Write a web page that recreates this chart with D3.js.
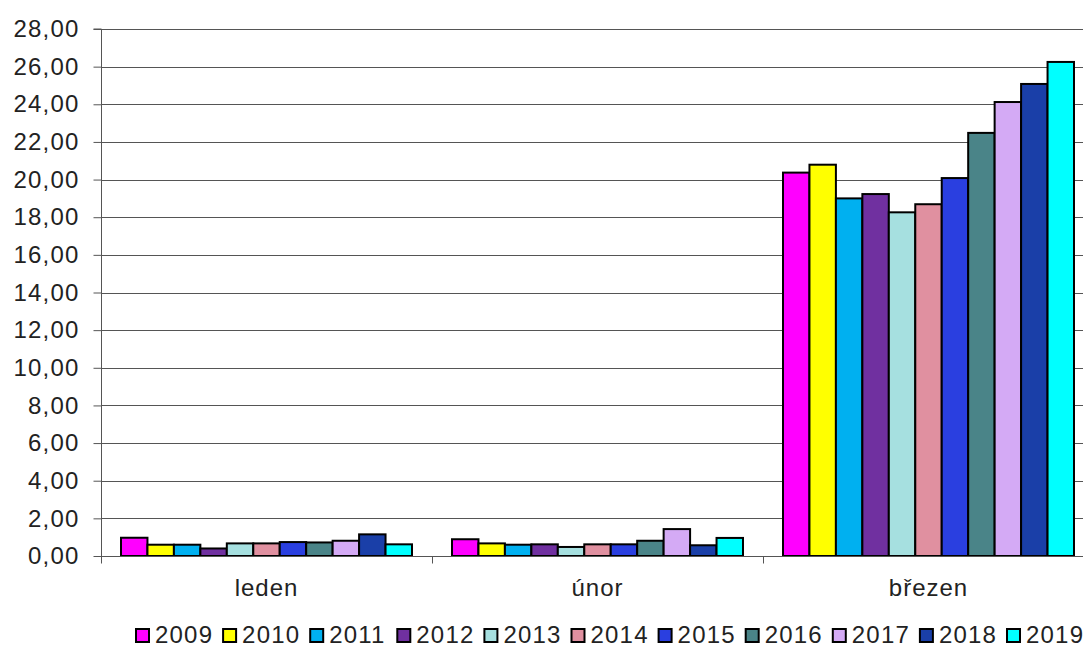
<!DOCTYPE html>
<html>
<head>
<meta charset="utf-8"/>
<script src="https://d3js.org/d3.v7.min.js"></script>
<style>
  body { margin: 0; padding: 0; background: #fff; }
  svg { display: block; font-family: 'Liberation Sans', Arial, sans-serif; }
</style>
</head>
<body>
<div id="chart"></div>
<script>
// data
const months = ["leden", "únor", "březen"];
const years = ["2009", "2010", "2011", "2012", "2013", "2014", "2015", "2016", "2017", "2018", "2019"];
const colors = ["#FF00FF", "#FFFF00", "#00B0F0", "#7030A0", "#A6E0E0", "#E090A0", "#2A3FE0", "#4A8488", "#D4AAF5", "#1A3FA8", "#00FFFF"];
const leden = [0.97, 0.60, 0.60, 0.40, 0.67, 0.67, 0.74, 0.72, 0.81, 1.15, 0.62];
const unor = [0.89, 0.67, 0.60, 0.62, 0.48, 0.62, 0.62, 0.81, 1.43, 0.57, 0.96];
const brezen = [20.37, 20.79, 19.00, 19.23, 18.26, 18.69, 20.08, 22.48, 24.12, 25.08, 26.25];
const yTicks = d3.range(0, 29, 2);

const values = [leden, unor, brezen];

const W = 1083, H = 646;
const plotL = 101, plotT = 29, plotB = 556, plotR = 1094;

const svg = d3.select("#chart").append("svg")
  .attr("width", W).attr("height", H);

const x = d3.scaleBand().domain(months).range([plotL, plotR]).paddingInner(0).paddingOuter(0);
const inner = d3.scaleBand().domain(years).range([20, x.bandwidth() - 20]).padding(0);
const y = d3.scaleLinear().domain([0, 28]).range([plotB, plotT]);

// gridlines
svg.append("g").selectAll("line")
  .data(yTicks.filter(d => d > 0))
  .join("line")
  .attr("x1", plotL).attr("x2", W)
  .attr("y1", d => Math.round(y(d)) + 0.5).attr("y2", d => Math.round(y(d)) + 0.5)
  .attr("stroke", "#555").attr("stroke-width", 1);

// y axis
const yAxis = svg.append("g")
  .attr("transform", `translate(${plotL + 0.5},0)`)
  .call(d3.axisLeft(y).tickValues(yTicks).tickSize(8).tickPadding(14)
    .tickFormat(d => d3.format(".2f")(d).replace(".", ",")));
yAxis.select(".domain").attr("stroke", "#555").attr("d", `M-8,${y(28)}H0V${y(0)}`);
yAxis.selectAll(".tick line").attr("stroke", "#555");
yAxis.selectAll(".tick text")
  .attr("fill", "#222").style("font-size", "24px").style("letter-spacing", "1.2px")
  .style("font-family", "'Liberation Sans', Arial, sans-serif");

// bars
const groups = svg.append("g").selectAll("g")
  .data(months)
  .join("g")
  .attr("transform", d => `translate(${x(d)},0)`);

groups.selectAll("rect")
  .data((m, i) => values[i].map((v, j) => ({ year: years[j], v: v, c: colors[j] })))
  .join("rect")
  .attr("x", d => inner(d.year))
  .attr("width", inner.bandwidth())
  .attr("y", d => y(d.v))
  .attr("height", d => y(0) - y(d.v))
  .attr("fill", d => d.c)
  .attr("stroke", "#000")
  .attr("stroke-width", 2);

// x axis
const xAxis = svg.append("g")
  .attr("transform", `translate(0,${plotB + 0.5})`);
xAxis.append("line").attr("x1", plotL).attr("x2", W).attr("stroke", "#555");
xAxis.selectAll(".tk")
  .data(months.map(m => x(m)).concat([plotR]))
  .join("line")
  .attr("x1", d => d + 0.5).attr("x2", d => d + 0.5)
  .attr("y1", 0).attr("y2", 7).attr("stroke", "#555");
xAxis.selectAll("text")
  .data(months)
  .join("text")
  .attr("x", d => x(d) + x.bandwidth() / 2)
  .attr("y", 39)
  .attr("text-anchor", "middle")
  .attr("fill", "#222")
  .style("font-size", "24px")
  .style("letter-spacing", "1px")
  .text(d => d);

// legend
const lx = d3.scalePoint().domain(years).range([136, 1007]);
const legend = svg.append("g").selectAll("g")
  .data(years)
  .join("g")
  .attr("transform", d => `translate(${lx(d)},629)`);
legend.append("rect")
  .attr("width", 13).attr("height", 13)
  .attr("fill", (d, i) => colors[i])
  .attr("stroke", "#000").attr("stroke-width", 2);
legend.append("text")
  .attr("x", 19).attr("y", 14)
  .attr("fill", "#222")
  .style("font-size", "24px")
  .style("letter-spacing", "1.2px")
  .text(d => d);
</script>
</body>
</html>
